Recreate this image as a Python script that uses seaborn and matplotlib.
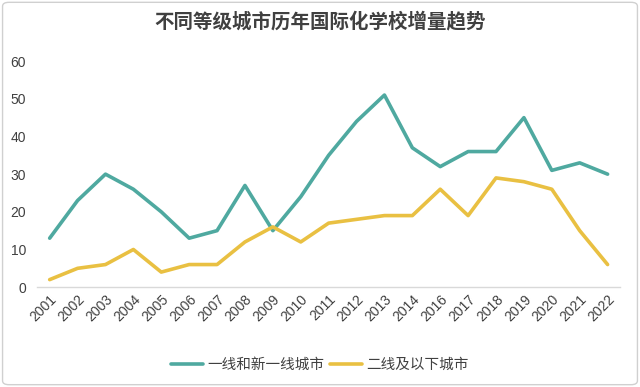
import pandas as pd
import matplotlib.pyplot as plt
import seaborn as sns
from matplotlib.patches import FancyBboxPatch

# data
years = ['2001', '2002', '2003', '2004', '2005', '2006', '2007', '2008', '2009', '2010',
         '2011', '2012', '2013', '2014', '2016', '2017', '2018', '2019', '2020', '2021', '2022']
tier1 = [13, 23, 30, 26, 20, 13, 15, 27, 15, 24, 35, 44, 51, 37, 32, 36, 36, 45, 31, 33, 30]
tier2 = [2, 5, 6, 10, 4, 6, 6, 12, 16, 12, 17, 18, 19, 19, 26, 19, 29, 28, 26, 15, 6]
series_names = ['一线和新一线城市', '二线及以下城市']
colors = ['#4fa9a0', '#e9c042']

df = pd.DataFrame({'year': years * 2,
                   'value': tier1 + tier2,
                   'group': [series_names[0]] * len(years) + [series_names[1]] * len(years)})

sns.set_style('white')
plt.rcParams['font.family'] = ['Noto Sans CJK SC', 'DejaVu Sans']

fig = plt.figure(figsize=(6.4, 3.87), dpi=100)
ax = fig.add_axes([0.058, 0.258, 0.911, 0.584])

sns.lineplot(data=df, x='year', y='value', hue='group', palette=colors,
             linewidth=2.6, sort=False, ax=ax)

ax.set_xlim(-0.45, len(years) - 0.55)
ax.set_ylim(0, 60)
ax.set_yticks(range(0, 61, 10))
ax.set_xlabel('')
ax.set_ylabel('')
for s in ['top', 'right', 'left']:
    ax.spines[s].set_visible(False)
ax.spines['bottom'].set_color('#d9d9d9')
ax.spines['bottom'].set_linewidth(1)
ax.tick_params(axis='both', length=0, labelsize=10, colors='#404040')
ax.tick_params(axis='y', pad=8)
plt.setp(ax.get_xticklabels(), rotation=45, ha='right', rotation_mode='anchor',
         family=['Liberation Sans', 'DejaVu Sans'])
plt.setp(ax.get_yticklabels(), family=['Liberation Sans', 'DejaVu Sans'])

ax.legend(loc='upper center', bbox_to_anchor=(0.485, -0.255), ncol=2, frameon=False,
          fontsize=10.5, handlelength=2.2, handletextpad=0.3, columnspacing=0.4,
          labelcolor='#404040')

fig.text(0.5, 0.945, '不同等级城市历年国际化学校增量趋势', ha='center', va='center',
         fontsize=14, fontweight='bold', color='#404040')

fig.patches.append(FancyBboxPatch((0.004, 0.006), 0.992, 0.988,
                                  boxstyle='round,pad=0,rounding_size=0.01',
                                  transform=fig.transFigure, fill=False,
                                  edgecolor='#d0d0d0', linewidth=1))

fig.savefig('out.png', dpi=100)
